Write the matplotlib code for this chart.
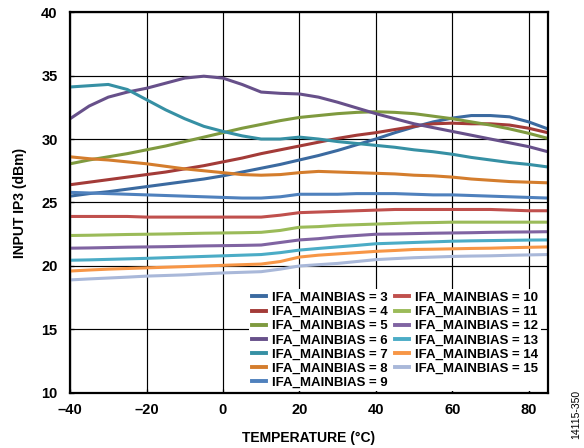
import matplotlib
matplotlib.use('Agg')
import matplotlib.pyplot as plt

plt.rcParams['font.family'] = ['Liberation Sans', 'DejaVu Sans']

# temperature axis (°C)
temps = [-40, -35, -30, -25, -20, -15, -10, -5, 0, 5, 10, 15, 20, 25,
         30, 35, 40, 45, 50, 55, 60, 65, 70, 75, 80, 85]

bias_3 = [25.5, 25.7, 25.85, 26.05, 26.25, 26.45, 26.65, 26.85, 27.1, 27.4, 27.7, 28.0, 28.35,
          28.7, 29.1, 29.55, 30.0, 30.5, 30.95, 31.35, 31.65, 31.85, 31.85, 31.75, 31.35, 30.8]
bias_4 = [26.4, 26.6, 26.8, 27.0, 27.2, 27.4, 27.65, 27.9, 28.2, 28.5, 28.85, 29.15, 29.45,
          29.75, 30.05, 30.3, 30.5, 30.75, 31.0, 31.2, 31.25, 31.2, 31.2, 31.1, 30.85, 30.5]
bias_5 = [28.05, 28.35, 28.6, 28.85, 29.15, 29.45, 29.8, 30.15, 30.5, 30.85, 31.15, 31.45, 31.7,
          31.85, 32.0, 32.1, 32.15, 32.1, 32.0, 31.8, 31.6, 31.35, 31.1, 30.8, 30.45, 30.05]
bias_6 = [31.6, 32.6, 33.3, 33.7, 34.0, 34.4, 34.8, 34.95, 34.8, 34.3, 33.7, 33.6, 33.55,
          33.3, 32.9, 32.45, 32.0, 31.6, 31.2, 30.9, 30.6, 30.3, 30.0, 29.7, 29.4, 29.0]
bias_7 = [34.1, 34.2, 34.3, 33.9, 33.1, 32.3, 31.6, 31.0, 30.6, 30.25, 30.0, 30.0, 30.15,
          30.0, 29.8, 29.65, 29.5, 29.35, 29.15, 29.0, 28.8, 28.55, 28.35, 28.15, 28.0, 27.8]
bias_8 = [28.6, 28.45, 28.35, 28.2, 28.05, 27.85, 27.65, 27.5, 27.35, 27.2, 27.15, 27.2, 27.35,
          27.45, 27.4, 27.35, 27.3, 27.25, 27.15, 27.1, 27.0, 26.85, 26.75, 26.65, 26.6, 26.55]
bias_9 = [25.8, 25.75, 25.7, 25.65, 25.6, 25.55, 25.5, 25.45, 25.4, 25.35, 25.35, 25.45, 25.65,
          25.65, 25.65, 25.7, 25.7, 25.7, 25.65, 25.6, 25.6, 25.55, 25.5, 25.45, 25.4, 25.35]
bias_10 = [23.9, 23.9, 23.9, 23.9, 23.85, 23.85, 23.85, 23.85, 23.85, 23.85, 23.85, 24.0, 24.2,
           24.25, 24.3, 24.35, 24.4, 24.45, 24.45, 24.45, 24.45, 24.45, 24.45, 24.4, 24.35, 24.35]
bias_11 = [22.4, 22.42, 22.45, 22.48, 22.5, 22.52, 22.55, 22.58, 22.6, 22.62, 22.65, 22.8, 23.05,
           23.1, 23.2, 23.25, 23.3, 23.35, 23.4, 23.42, 23.45, 23.45, 23.45, 23.45, 23.45, 23.45]
bias_12 = [21.4, 21.42, 21.45, 21.48, 21.5, 21.52, 21.55, 21.58, 21.6, 21.62, 21.65, 21.85, 22.05,
           22.15, 22.3, 22.4, 22.5, 22.52, 22.55, 22.58, 22.6, 22.62, 22.65, 22.67, 22.68, 22.7]
bias_13 = [20.45, 20.48, 20.52, 20.56, 20.6, 20.65, 20.7, 20.75, 20.8, 20.85, 20.9, 21.05, 21.25,
           21.38, 21.5, 21.62, 21.75, 21.8, 21.85, 21.9, 21.95, 21.98, 22.0, 22.02, 22.04, 22.05]
bias_14 = [19.6, 19.68, 19.75, 19.8, 19.85, 19.9, 19.95, 20.0, 20.05, 20.1, 20.15, 20.35, 20.7,
           20.85, 20.95, 21.05, 21.15, 21.22, 21.3, 21.32, 21.35, 21.38, 21.4, 21.44, 21.47, 21.5]
bias_15 = [18.9, 18.98, 19.05, 19.12, 19.2, 19.25, 19.3, 19.38, 19.45, 19.5, 19.55, 19.75, 20.0,
           20.1, 20.2, 20.35, 20.5, 20.58, 20.65, 20.7, 20.75, 20.78, 20.8, 20.84, 20.87, 20.9]

series = [bias_3, bias_4, bias_5, bias_6, bias_7, bias_8, bias_9,
          bias_10, bias_11, bias_12, bias_13, bias_14, bias_15]
bias_names = [3, 4, 5, 6, 7, 8, 9, 10, 11, 12, 13, 14, 15]
colors = ['#3B6AA0', '#A33B38', '#7F9A3F', '#67508A', '#3690A4', '#D47D2D', '#4F81BD',
          '#C0504D', '#9BBB59', '#8064A2', '#4BACC6', '#F79646', '#A9B8D9']

x_ticks = [-40, -20, 0, 20, 40, 60, 80]
x_tick_labels = ['\u201340', '\u201320', '0', '20', '40', '60', '80']
y_ticks = [10, 15, 20, 25, 30, 35, 40]

fig = plt.figure(figsize=(5.84, 4.48), dpi=100)
ax = fig.add_axes([0.12, 0.123, 0.818, 0.85])

# 데이터 그리기
for vals, name, col in zip(series, bias_names, colors):
    ax.plot(temps, vals, color=col, linewidth=2.2, label='IFA_MAINBIAS = %d' % name)

ax.set_xlim(-40, 85)
ax.set_ylim(10, 40)
ax.set_xticks(x_ticks)
ax.set_xticklabels(x_tick_labels)
ax.set_yticks(y_ticks)
ax.grid(True, color='black', linewidth=0.85)
ax.set_axisbelow(True)
ax.tick_params(direction='in', length=3, width=0.9, labelsize=10.5)
ax.tick_params(axis='y', pad=9)
ax.tick_params(axis='x', pad=7)
for lab in ax.get_xticklabels() + ax.get_yticklabels():
    lab.set_fontweight('bold')
for sp in ax.spines.values():
    sp.set_linewidth(1.6)

ax.set_xlabel('TEMPERATURE (°C)', fontsize=10, fontweight='bold', labelpad=10)
ax.set_ylabel('INPUT IP3 (dBm)', fontsize=10, fontweight='bold', labelpad=10)

leg = ax.legend(loc='lower right', bbox_to_anchor=(1.0, -0.013), ncol=2, fontsize=9.5,
                frameon=True, fancybox=False,
                edgecolor='none', facecolor='white', framealpha=1.0,
                handlelength=1.1, handletextpad=0.45, columnspacing=0.55,
                labelspacing=0.14, borderaxespad=0.5, borderpad=0.2)
for t in leg.get_texts():
    t.set_fontweight('bold')
for h in leg.get_lines():
    h.set_linewidth(2.8)

fig.text(0.987, 0.075, '14115-350', rotation=90, fontsize=7.5, ha='center', va='center')

plt.savefig('out.png', dpi=100)
